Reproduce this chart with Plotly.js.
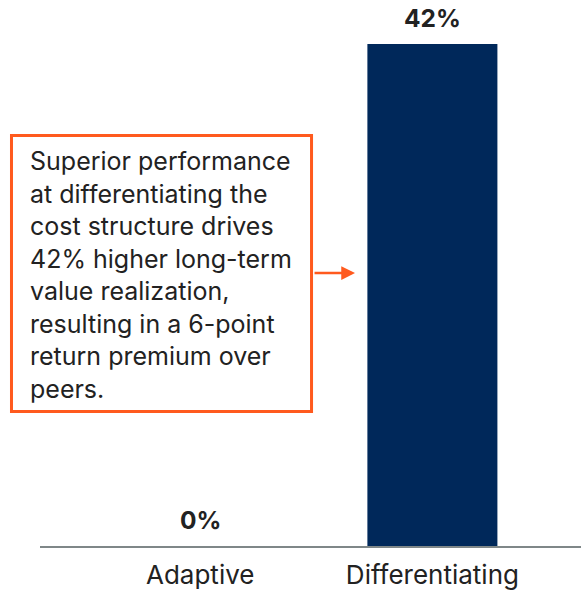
<!DOCTYPE html>
<html><head><meta charset="utf-8">
<script src="https://cdn.plot.ly/plotly-3.0.1.min.js"></script>
<style>html,body{margin:0;padding:0;background:#fff}#chart{width:581px;height:590px}</style>
</head><body><div id="chart"></div>
<script>
const categories = ["Adaptive", "Differentiating"];
const values = [0, 42];
const valueLabels = ["0%", "42%"];
const noteText = "Superior performance<br>at differentiating the<br>cost structure drives<br>42% higher long-term<br>value realization,<br>resulting in a 6-point<br>return premium over<br>peers.";

const navy = "#00285a";
const orange = "#ff5a1e";
const textCol = "#222222";
const FONT = "Inter, 'Open Sans', sans-serif";

const trace = {
  type: "bar",
  x: categories,
  y: values,
  width: 0.56,
  marker: {color: navy},
  hoverinfo: "skip"
};

const labelAnns = categories.map((c, i) => ({
  x: c, y: values[i], xref: "x", yref: "y",
  text: "<b>" + valueLabels[i] + "</b>",
  showarrow: false, yanchor: "bottom", yshift: 9,
  font: {family: FONT, size: 24.5, color: textCol}
}));

const layout = {
  width: 581, height: 590,
  margin: {l: 40, r: 0, t: 0, b: 44},
  paper_bgcolor: "#fff", plot_bgcolor: "#fff",
  showlegend: false,
  font: {family: FONT, color: textCol},
  xaxis: {
    range: [-0.69, 1.64], fixedrange: true,
    showline: true, linecolor: "#7f8788", linewidth: 2,
    showgrid: false, zeroline: false, ticks: "",
    ticklabelstandoff: 5,
    tickfont: {family: FONT, size: 26, color: textCol}
  },
  yaxis: {
    range: [0, 45.68], visible: false, showgrid: false, zeroline: false, fixedrange: true
  },
  shapes: [{
    type: "rect", xref: "paper", yref: "paper",
    x0: -0.0527, x1: 0.5019, y0: 0.2463, y1: 0.7518,
    line: {color: orange, width: 3}, fillcolor: "rgba(0,0,0,0)", layer: "above"
  }],
  annotations: labelAnns.concat([
    {
      xref: "paper", yref: "paper", x: -0.0222, y: 0.4963,
      xanchor: "left", yanchor: "middle", align: "left",
      text: noteText, showarrow: false,
      font: {family: FONT, size: 25, color: textCol}
    },
    {
      xref: "paper", yref: "paper", x: 0.5823, y: 0.5,
      text: "", showarrow: true, ax: -42, ay: 0,
      arrowhead: 2, arrowsize: 1.1, arrowwidth: 2.5, arrowcolor: orange
    }
  ])
};

Plotly.newPlot("chart", [trace], layout, {displayModeBar: false, staticPlot: true});
</script></body></html>
